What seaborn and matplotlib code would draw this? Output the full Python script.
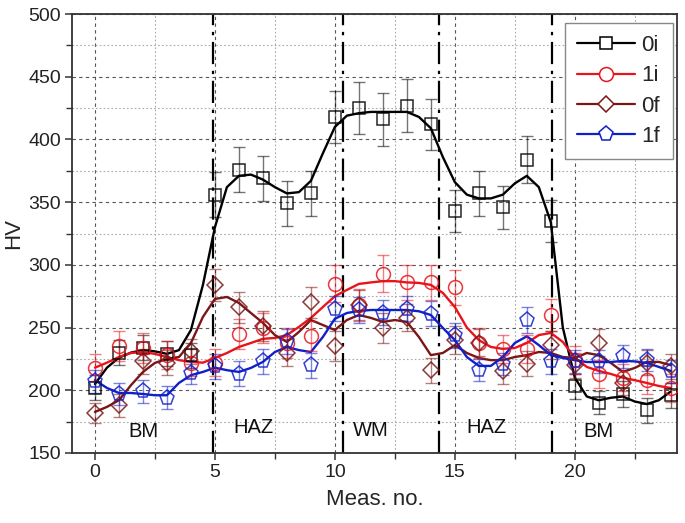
import seaborn as sns
import matplotlib.pyplot as plt
import pandas as pd
from matplotlib.lines import Line2D
from matplotlib.ticker import MultipleLocator

# measured hardness values (markers) and their scatter
meas = list(range(25))
hv_0i = [202, 230, 234, 229, 228, 356, 376, 369, 349, 357, 418, 425, 416, 427, 412,
         343, 357, 346, 384, 335, 203, 190, 197, 184, 196]
err_0i = [10, 10, 10, 10, 10, 18, 18, 18, 18, 18, 21, 21, 21, 21, 20,
          17, 18, 17, 19, 17, 10, 9, 10, 10, 10]
hv_1i = [218, 235, 234, 228, 222, 222, 245, 250, 238, 243, 285, 268, 293, 286, 286,
         282, 238, 233, 233, 260, 224, 213, 210, 208, 202]
err_1i = [11, 12, 12, 11, 11, 11, 12, 12, 12, 12, 15, 13, 15, 14, 14,
          14, 12, 11, 11, 13, 11, 11, 11, 11, 11]
hv_0f = [182, 188, 223, 222, 231, 284, 266, 251, 230, 270, 235, 268, 250, 258, 216,
         240, 238, 215, 221, 236, 220, 238, 206, 222, 219]
err_0f = [8, 9, 10, 10, 10, 13, 12, 12, 11, 12, 12, 12, 12, 11, 10,
          11, 11, 10, 10, 11, 10, 11, 10, 10, 10]
hv_1f = [207, 197, 199, 194, 214, 219, 213, 223, 239, 220, 265, 264, 262, 265, 261,
         244, 216, 221, 256, 223, 223, 223, 227, 224, 215]
err_1f = [9, 9, 9, 9, 9, 10, 10, 10, 10, 10, 10, 10, 10, 10, 10,
          10, 9, 9, 10, 10, 9, 9, 9, 9, 9]

# smoothed curves, every half step
fit_x = [i / 2 for i in range(49)]
fit_0i = [205, 218, 226, 230, 232, 231, 229, 232, 248, 284, 330, 362, 371, 372, 368,
          362, 357, 358, 367, 389, 410, 419, 421, 422, 422, 422, 422, 418, 409, 386,
          366, 356, 353, 353, 356, 365, 371, 362, 334, 250, 210, 195, 192, 194, 195,
          191, 189, 192, 199]
fit_1i = [218, 222, 226.5, 229.7, 230.5, 229, 226.5, 224, 222.6, 222, 225.7, 229.7,
          234.5, 237.7, 241, 241.7, 244, 250.5, 257.7, 266.4, 275, 280, 284.8, 286,
          287, 287, 286, 285.6, 284, 277.6, 266.4, 250, 240, 234.5, 233, 233.7, 237.7,
          244, 245.7, 238.5, 226, 218.6, 215.4, 213, 210, 208, 205.8, 203.4, 201.8]
fit_0f = [182.7, 186.7, 192, 204, 214.6, 221.8, 225, 226.5, 237.7, 258.5, 272.8, 274.4,
          269.6, 261.6, 253.7, 244, 238.5, 246.5, 256, 252, 248, 256, 260, 257.7,
          254.5, 256, 254.5, 242.5, 228, 229.7, 236, 229.7, 225.7, 224, 224, 226.5,
          228, 230.5, 229.7, 226.5, 225.7, 229.7, 228, 221.8, 214.6, 217.8, 222.6,
          222.6, 220]
fit_1f = [208, 201.8, 197.8, 197.8, 197, 196, 196, 205.8, 212, 214.6, 218, 216, 214.6,
          217.8, 222.6, 230.5, 234.5, 232, 230.5, 242.5, 257, 261.6, 263.2, 264, 264,
          264, 264, 263, 260, 249.7, 240, 226.5, 219.4, 219.4, 226.5, 237.7, 243, 236,
          228, 225.7, 224, 222.5, 222.5, 222.5, 223.4, 223, 221.8, 218.6, 215.4]

series = ["0i", "1i", "0f", "1f"]
points = {"0i": (hv_0i, err_0i), "1i": (hv_1i, err_1i),
          "0f": (hv_0f, err_0f), "1f": (hv_1f, err_1f)}
fits = {"0i": fit_0i, "1i": fit_1i, "0f": fit_0f, "1f": fit_1f}

zone_edges = [4.9, 10.35, 14.35, 19.05]
zone_labels = ["BM", "HAZ", "WM", "HAZ", "BM"]
zone_label_x = [2.0, 6.6, 11.5, 16.3, 21.0]
zone_label_y = [167, 170, 168, 170, 167]

colors = {"0i": "#000000", "1i": "#e8141c", "0f": "#7a1616", "1f": "#1020c8"}
markers = {"0i": "s", "1i": "o", "0f": "D", "1f": "p"}
msize = {"0i": 9, "1i": 10, "0f": 7.7, "1f": 11}

sns.set_style("white")
plt.rcParams["font.family"] = ["Liberation Sans", "DejaVu Sans"]

fig = plt.figure(figsize=(6.85, 5.23), dpi=100)
ax = fig.add_axes([0.105, 0.134, 0.883, 0.839])

# smooth lines
fit_df = pd.DataFrame(
    [(x, y, s) for s in series for x, y in zip(fit_x, fits[s])],
    columns=["x", "hv", "series"],
)
sns.lineplot(data=fit_df, x="x", y="hv", hue="series", palette=colors,
             estimator=None, sort=False, linewidth=1.7, legend=False, ax=ax, zorder=3)

# measured points with error bars
for s in series:
    hv, err = points[s]
    ax.errorbar(meas, hv, yerr=err, fmt="none", ecolor=colors[s], alpha=0.55,
                elinewidth=1.0, capsize=4, capthick=1.0, zorder=4)
    ax.plot(meas, hv, linestyle="none", marker=markers[s], ms=msize[s],
            mfc="none", mec=colors[s], mew=1.1, alpha=0.85, zorder=5)

for xe in zone_edges:
    ax.axvline(xe, color="black", lw=1.6, linestyle=(0, (10, 3, 1.5, 3)), zorder=2)

for lab, xl, yl in zip(zone_labels, zone_label_x, zone_label_y):
    ax.text(xl, yl, lab, ha="center", va="center", fontsize=14.5, color="#111111")

ax.set_xlim(-0.96, 24.25)
ax.set_ylim(150, 500)
ax.xaxis.set_major_locator(MultipleLocator(5))
ax.xaxis.set_minor_locator(MultipleLocator(2.5))
ax.yaxis.set_major_locator(MultipleLocator(50))
ax.yaxis.set_minor_locator(MultipleLocator(25))

ax.grid(which="major", color="#555555", lw=0.8, linestyle=(0, (3, 3)), zorder=0)
ax.grid(which="minor", color="#aaaaaa", lw=0.8, linestyle=(0, (1.5, 2)), zorder=0)
ax.set_axisbelow(True)

for sp in ax.spines.values():
    sp.set_color("#333333")
    sp.set_linewidth(1.3)

ax.tick_params(axis="both", which="major", direction="out", length=5, width=1.1,
               color="#333333", labelsize=14, labelcolor="#222222", bottom=True, left=True,
               pad=3)
ax.tick_params(axis="both", which="minor", direction="out", length=4, width=1.0,
               color="#333333", bottom=True, left=True)

ax.set_xlabel("Meas. no.", fontsize=16, labelpad=6)
ax.set_ylabel("HV", fontsize=16, labelpad=3)

handles = [Line2D([], [], color=colors[s], lw=1.6, marker=markers[s], ms=msize[s],
                  mfc="white", mec=colors[s], mew=1.1) for s in series]
leg = ax.legend(handles, series, loc="upper right", bbox_to_anchor=(0.993, 0.98),
                fontsize=16, frameon=True, fancybox=False, framealpha=1,
                edgecolor="#888888", handlelength=2.6, handletextpad=0.3,
                labelspacing=0.42, borderpad=0.55, borderaxespad=0)
leg.get_frame().set_linewidth(1.0)
leg.set_zorder(10)

plt.savefig("out.png", dpi=100)
plt.close()
